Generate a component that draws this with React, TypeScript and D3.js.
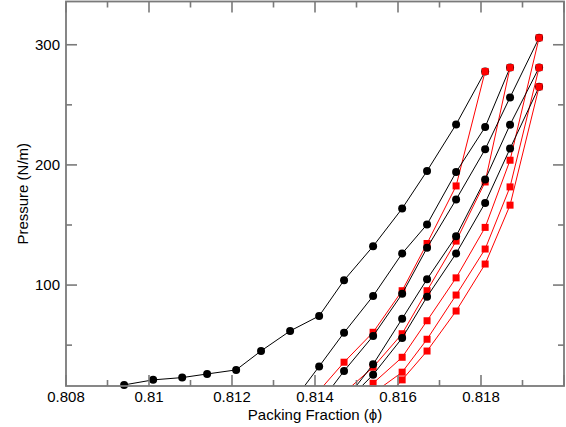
import React from 'react';
import * as d3 from 'd3';

const W = 566;
const H = 427;
const PLOT = { left: 66, right: 564, top: 1.5, bottom: 386 };

const X_DOMAIN: [number, number] = [0.808, 0.82];
const Y_DOMAIN: [number, number] = [16, 336];

const xMajorTicks = [0.808, 0.81, 0.812, 0.814, 0.816, 0.818, 0.82];
const xMajorLabels = ['0.808', '0.81', '0.812', '0.814', '0.816', '0.818', ''];
const xMinorTicks = [0.809, 0.811, 0.813, 0.815, 0.817, 0.819];
const yMajorTicks = [100, 200, 300];
const yMajorLabels = ['100', '200', '300'];
const yMinorTicks = [50, 150, 250];

// compression runs (black circles)
const black1: [number, number][] = [
  [0.8094, 16.9], [0.8101, 21.1], [0.8108, 23], [0.8114, 26], [0.8121, 29.4],
  [0.8127, 45.2], [0.8134, 61.8], [0.8141, 74.3], [0.8147, 104], [0.8154, 132.3],
  [0.8161, 163.7], [0.8167, 195], [0.8174, 233.7], [0.8181, 277.8],
];
const black2: [number, number][] = [
  [0.8134, 0], [0.8141, 32.3], [0.8147, 60.4], [0.8154, 90.9], [0.8161, 126.3],
  [0.8167, 150.5], [0.8174, 194], [0.8181, 231.5], [0.8187, 281],
];
const black3: [number, number][] = [
  [0.8141, 1], [0.8147, 28.5], [0.8154, 57.6], [0.8161, 92.7], [0.8167, 131],
  [0.8174, 171.2], [0.8181, 213], [0.8187, 256.2], [0.8194, 305.8],
];
const black4: [number, number][] = [
  [0.8147, 3], [0.8154, 34], [0.8161, 72], [0.8167, 104.9], [0.8174, 140.7],
  [0.8181, 187.8], [0.8187, 233.5], [0.8194, 281],
];
const black5: [number, number][] = [
  [0.8147, 1], [0.8154, 25.4], [0.8161, 55.9], [0.8167, 90.3], [0.8174, 126.3],
  [0.8181, 168.4], [0.8187, 213.6], [0.8194, 265],
];

// decompression runs (red squares)
const red1: [number, number][] = [
  [0.8141, 12], [0.8147, 35.8], [0.8154, 60.7], [0.8161, 95.3], [0.8167, 134.6],
  [0.8174, 182.5], [0.8181, 277.8],
];
const red2: [number, number][] = [
  [0.8147, 10.4], [0.8154, 31.6], [0.8161, 59.5], [0.8167, 95.3], [0.8174, 136.6],
  [0.8181, 185.8], [0.8187, 281],
];
const red3: [number, number][] = [
  [0.8147, -3], [0.8154, 18.3], [0.8161, 39.9], [0.8167, 70.3], [0.8174, 106],
  [0.8181, 148], [0.8187, 203.9], [0.8194, 305.8],
];
const red4: [number, number][] = [
  [0.8154, 10], [0.8161, 27.5], [0.8167, 54.9], [0.8174, 91.7], [0.8181, 130],
  [0.8187, 181.7], [0.8194, 281],
];
const red5: [number, number][] = [
  [0.8154, -6], [0.8161, 21.1], [0.8167, 45.1], [0.8174, 78.4], [0.8181, 117.5],
  [0.8187, 166.5], [0.8194, 265],
];

const seriesOrder: { data: [number, number][]; kind: 'black' | 'red' }[] = [
  { data: black1, kind: 'black' },
  { data: red1, kind: 'red' },
  { data: black2, kind: 'black' },
  { data: red2, kind: 'red' },
  { data: black3, kind: 'black' },
  { data: red3, kind: 'red' },
  { data: black4, kind: 'black' },
  { data: red4, kind: 'red' },
  { data: black5, kind: 'black' },
  { data: red5, kind: 'red' },
];

const FONT = '"Liberation Sans", Arial, Helvetica, sans-serif';
const AXIS = '#7a7a7a';

export default function App() {
  const x = d3.scaleLinear().domain(X_DOMAIN).range([PLOT.left, PLOT.right]);
  const y = d3.scaleLinear().domain(Y_DOMAIN).range([PLOT.bottom, PLOT.top]);
  const line = d3
    .line<[number, number]>()
    .x((d) => x(d[0]))
    .y((d) => y(d[1]));

  const MAJ = 11;
  const MIN = 6;

  return (
    <svg
      width={W}
      height={H}
      style={{ position: 'absolute', left: 0, top: 0, background: '#fff' }}
      fontFamily={FONT}
    >
      <defs>
        <clipPath id="plotClip">
          <rect x={PLOT.left} y={PLOT.top} width={PLOT.right - PLOT.left} height={PLOT.bottom - PLOT.top} />
        </clipPath>
      </defs>
      <rect x={0} y={0} width={W} height={H} fill="#fff" />

      {seriesOrder.map((s, i) => {
        const color = s.kind === 'black' ? '#000' : '#ff0000';
        const visible = s.data.filter((d) => d[1] >= Y_DOMAIN[0]);
        return (
          <g key={i}>
            <path
              d={line(s.data) || ''}
              fill="none"
              stroke={color}
              strokeWidth={1}
              clipPath="url(#plotClip)"
            />
            {visible.map((d, j) =>
              s.kind === 'black' ? (
                <circle key={j} cx={x(d[0])} cy={y(d[1])} r={4} fill="#000" />
              ) : (
                <rect key={j} x={x(d[0]) - 3.5} y={y(d[1]) - 3.5} width={7} height={7} fill="#ff0000" />
              )
            )}
          </g>
        );
      })}

      {/* frame */}
      <rect
        x={PLOT.left}
        y={PLOT.top}
        width={PLOT.right - PLOT.left}
        height={PLOT.bottom - PLOT.top}
        fill="none"
        stroke={AXIS}
        strokeWidth={1.8}
      />

      {/* x ticks */}
      {xMajorTicks.map((t, i) => (
        <g key={'xM' + i}>
          <line x1={x(t)} x2={x(t)} y1={PLOT.bottom} y2={PLOT.bottom - MAJ} stroke={AXIS} strokeWidth={1.6} />
          <line x1={x(t)} x2={x(t)} y1={PLOT.top} y2={PLOT.top + MAJ} stroke={AXIS} strokeWidth={1.6} />
          <text x={x(t)} y={402} textAnchor="middle" fontSize={15} fill="#000">
            {xMajorLabels[i]}
          </text>
        </g>
      ))}
      {xMinorTicks.map((t, i) => (
        <g key={'xm' + i}>
          <line x1={x(t)} x2={x(t)} y1={PLOT.bottom} y2={PLOT.bottom - MIN} stroke={AXIS} strokeWidth={1.6} />
          <line x1={x(t)} x2={x(t)} y1={PLOT.top} y2={PLOT.top + MIN} stroke={AXIS} strokeWidth={1.6} />
        </g>
      ))}

      {/* y ticks */}
      {yMajorTicks.map((t, i) => (
        <g key={'yM' + i}>
          <line x1={PLOT.left} x2={PLOT.left + MAJ} y1={y(t)} y2={y(t)} stroke={AXIS} strokeWidth={1.6} />
          <line x1={PLOT.right} x2={PLOT.right - MAJ} y1={y(t)} y2={y(t)} stroke={AXIS} strokeWidth={1.6} />
          <text x={60} y={y(t)} dy="0.36em" textAnchor="end" fontSize={15} fill="#000">
            {yMajorLabels[i]}
          </text>
        </g>
      ))}
      {yMinorTicks.map((t, i) => (
        <g key={'ym' + i}>
          <line x1={PLOT.left} x2={PLOT.left + MIN} y1={y(t)} y2={y(t)} stroke={AXIS} strokeWidth={1.6} />
          <line x1={PLOT.right} x2={PLOT.right - MIN} y1={y(t)} y2={y(t)} stroke={AXIS} strokeWidth={1.6} />
        </g>
      ))}

      {/* axis titles */}
      <text x={(PLOT.left + PLOT.right) / 2} y={420} textAnchor="middle" fontSize={15} fill="#000">
        Packing Fraction (ϕ)
      </text>
      <text
        transform={`translate(28, ${(PLOT.top + PLOT.bottom) / 2}) rotate(-90)`}
        textAnchor="middle"
        fontSize={15}
        fill="#000"
      >
        Pressure (N/m)
      </text>
    </svg>
  );
}
